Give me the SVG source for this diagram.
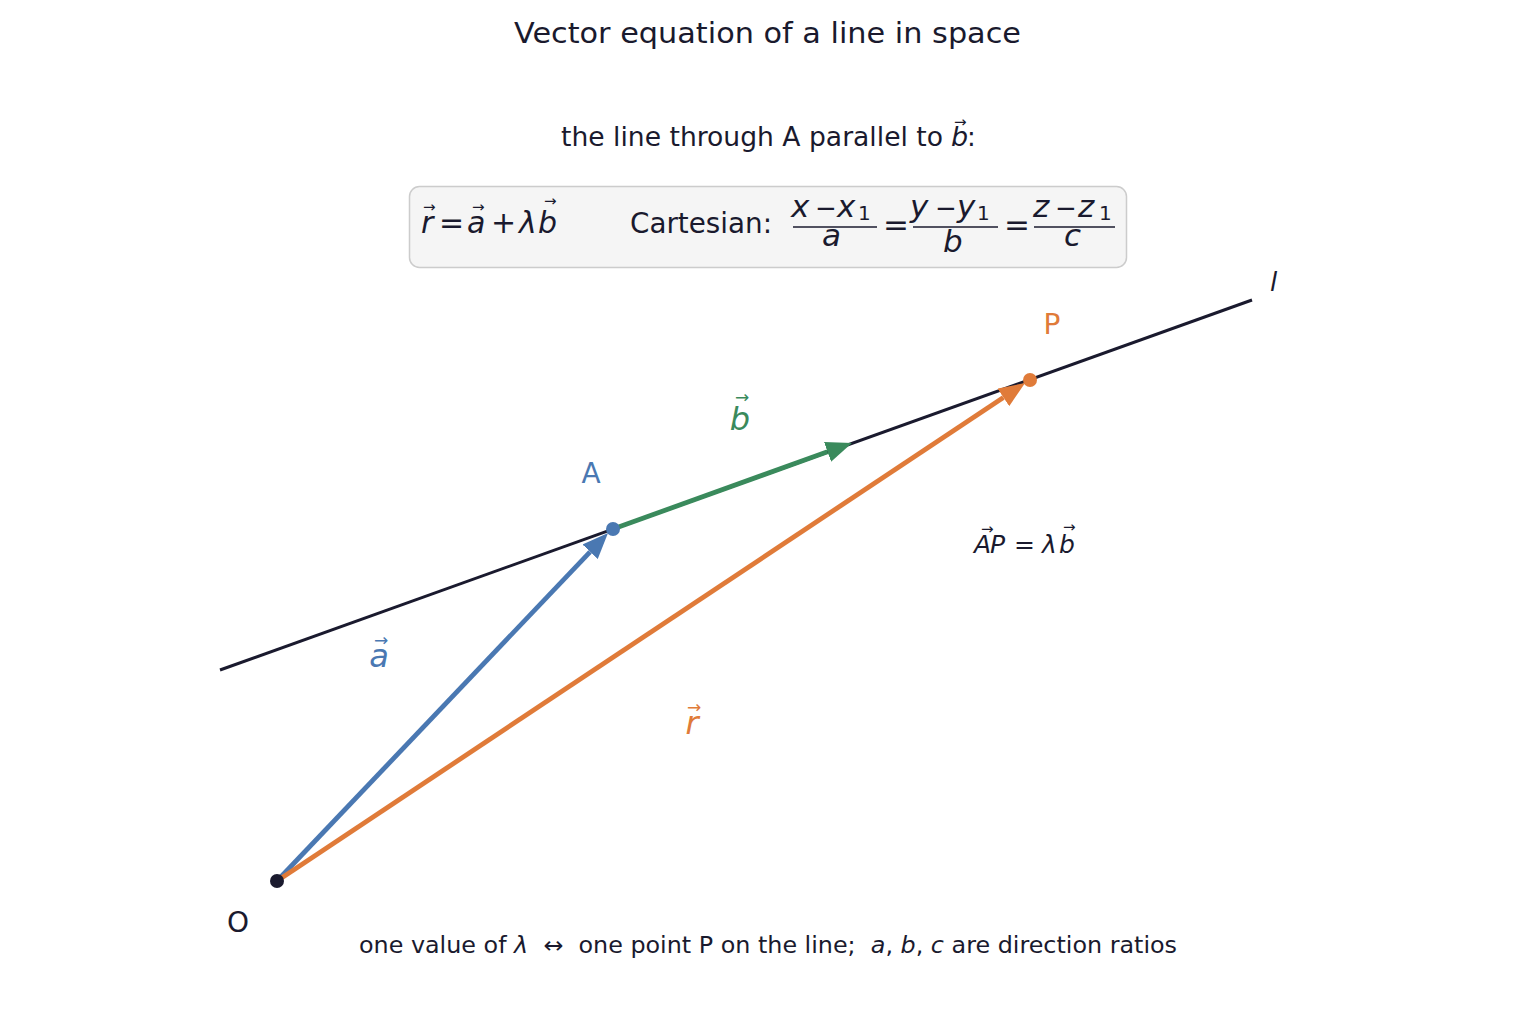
<svg xmlns="http://www.w3.org/2000/svg" width="1536" height="1024" viewBox="0 0 1536 1024">
<style>
text{font-family:"DejaVu Sans","Liberation Sans",sans-serif;fill:#1a1a2e}
.it{font-style:italic}
.vec{font-size:15px}
.m{font-size:30px}
.n{font-size:31px}
.mi{font-size:26px}
.s{font-size:20px}
.blue{fill:#4a78b2}.green{fill:#3a8a5c}.orange{fill:#e07b39}
</style>
<defs>
<marker id="hb" viewBox="0 0 26 21" markerWidth="26" markerHeight="21" markerUnits="userSpaceOnUse" refX="0" refY="10.5" orient="auto"><path d="M0,0 L26,10.5 L0,21 z" fill="#4a78b2"/></marker>
<marker id="hg" viewBox="0 0 26 21" markerWidth="26" markerHeight="21" markerUnits="userSpaceOnUse" refX="0" refY="10.5" orient="auto"><path d="M0,0 L26,10.5 L0,21 z" fill="#3a8a5c"/></marker>
<marker id="ho" viewBox="0 0 26 21" markerWidth="26" markerHeight="21" markerUnits="userSpaceOnUse" refX="0" refY="10.5" orient="auto"><path d="M0,0 L26,10.5 L0,21 z" fill="#e07b39"/></marker>
</defs>
<rect width="1536" height="1024" fill="#fff"/>
<text x="514" y="43" font-size="29" textLength="507" lengthAdjust="spacingAndGlyphs">Vector equation of a line in space</text>
<g id="subtitle">
<text x="561" y="146" font-size="26" textLength="382" lengthAdjust="spacingAndGlyphs">the line through A parallel to</text>
<text x="951" y="146" font-size="27" class="it">b</text>
<text x="954" y="127" class="vec">→</text>
<text x="967" y="146" font-size="26">:</text>
</g>
<g id="formula-box">
<rect x="409.5" y="186.5" width="717" height="81" rx="10" fill="#f5f5f5" stroke="#cccccc" stroke-width="1.5"/>
<text x="421" y="233" class="m it">r</text><text x="423" y="212" class="vec">→</text>
<text x="439" y="233" class="m">=</text>
<text x="467" y="233" class="m it">a</text><text x="472" y="212" class="vec">→</text>
<text x="491" y="233" class="m">+</text>
<text x="519" y="233" class="m it">λ</text>
<text x="538" y="233" class="m it">b</text><text x="544" y="206" class="vec">→</text>
<text x="630" y="233" font-size="27.5" textLength="142" lengthAdjust="spacingAndGlyphs">Cartesian:</text>
<text x="791" y="217" class="n it">x</text><text x="815" y="217" class="mi">−</text><text x="837" y="217" class="n it">x</text><text x="858" y="220" class="s">1</text>
<line x1="793" y1="227" x2="877" y2="227" stroke="#1a1a2e" stroke-width="1.3"/>
<text x="822" y="246" class="n it">a</text>
<text x="896" y="235" class="n" text-anchor="middle">=</text>
<text x="910" y="217" class="n it">y</text><text x="935" y="217" class="mi">−</text><text x="957" y="217" class="n it">y</text><text x="977" y="220" class="s">1</text>
<line x1="913" y1="227" x2="998" y2="227" stroke="#1a1a2e" stroke-width="1.3"/>
<text x="943" y="252" class="n it">b</text>
<text x="1017" y="235" class="n" text-anchor="middle">=</text>
<text x="1033" y="217" class="n it">z</text><text x="1055" y="217" class="mi">−</text><text x="1078" y="217" class="n it">z</text><text x="1099" y="220" class="s">1</text>
<line x1="1034" y1="227" x2="1115" y2="227" stroke="#1a1a2e" stroke-width="1.3"/>
<text x="1064" y="246" class="n it">c</text>
</g>
<g id="line-l">
<line x1="220" y1="670" x2="1252" y2="300" stroke="#1a1a2e" stroke-width="3"/>
<text x="1270" y="291" font-size="26" class="it">l</text>
</g>
<g id="connectors">
<line x1="277" y1="881" x2="590.1" y2="551.8" stroke="#4a78b2" stroke-width="4.8" marker-end="url(#hb)"/>
<line x1="277" y1="881" x2="1003.4" y2="397.4" stroke="#e07b39" stroke-width="4.8" marker-end="url(#ho)"/>
<line x1="613" y1="529" x2="827.5" y2="451.8" stroke="#3a8a5c" stroke-width="4.8" marker-end="url(#hg)"/>
</g>
<g id="O">
<circle cx="277" cy="881" r="7" fill="#1a1a2e"/>
<text x="238" y="932" font-size="28" text-anchor="middle">O</text>
</g>
<g id="A">
<circle cx="613" cy="529" r="7" fill="#4a78b2"/>
<text x="591" y="483" font-size="28" text-anchor="middle" class="blue">A</text>
</g>
<g id="P">
<circle cx="1030" cy="380" r="7" fill="#e07b39"/>
<text x="1052" y="334" font-size="28" text-anchor="middle" class="orange">P</text>
</g>
<g id="labels">
<text x="740" y="430" font-size="32" text-anchor="middle" class="it green">b</text><text x="742" y="403" font-size="17" text-anchor="middle" class="green">→</text>
<text x="379" y="667" font-size="32" text-anchor="middle" class="it blue">a</text><text x="381" y="646" font-size="17" text-anchor="middle" class="blue">→</text>
<text x="692" y="734" font-size="32" text-anchor="middle" class="it orange">r</text><text x="694" y="713" font-size="17" text-anchor="middle" class="orange">→</text>
<text x="974" y="553" font-size="25" class="it">A</text><text x="990" y="553" font-size="25" class="it">P</text><text x="981" y="534" class="vec">→</text>
<text x="1014" y="553" font-size="25">=</text>
<text x="1042" y="553" font-size="25" class="it">λ</text>
<text x="1059" y="553" font-size="25" class="it">b</text><text x="1063" y="532" class="vec">→</text>
</g>
<text x="359" y="953" font-size="23" xml:space="preserve" textLength="818" lengthAdjust="spacingAndGlyphs">one value of <tspan class="it">λ</tspan>  ↔  one point P on the line;  <tspan class="it">a</tspan>, <tspan class="it">b</tspan>, <tspan class="it">c</tspan> are direction ratios</text>
</svg>
